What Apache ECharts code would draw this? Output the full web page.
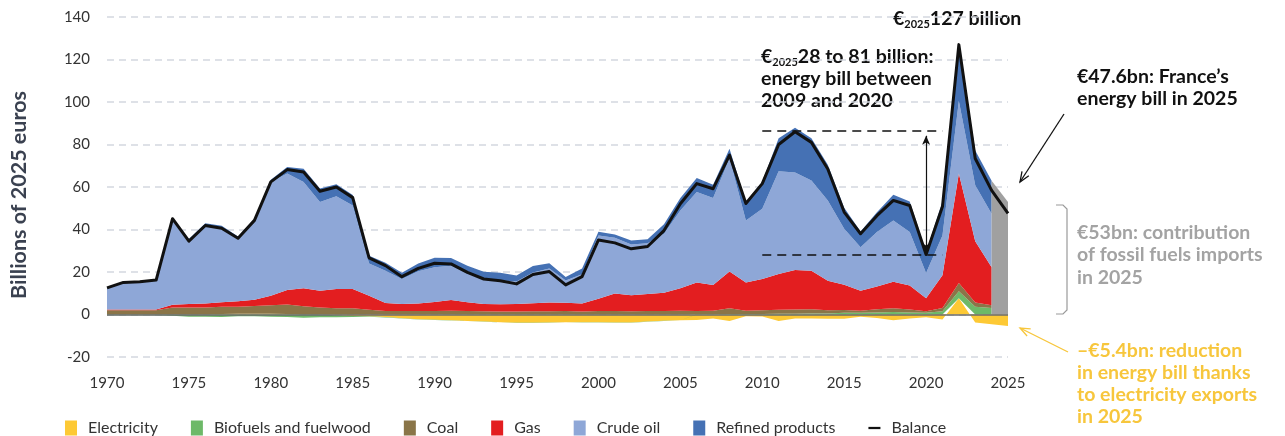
<!doctype html>
<html lang="en">
<head>
    <meta charset="UTF-8">
    <title>France energy bill</title>
    <style>
        html, body {margin: 0; padding: 0; background: #fff;}
    </style>
</head>
<body>
<div id="myChart" style="width: 1285px;height: 436px"></div>
<script src="https://cdn.jsdelivr.net/npm/echarts/dist/echarts.min.js"></script>
<script>
    // years 1970..2025
    var years = [];
    for (var yr = 1970; yr <= 2025; yr++) years.push(String(yr));

    // billions of 2025 euros, 1970..2025 (electricity, balance) / 1970..2024 (others)
    var electricity = [0, 0, 0, 0, 0, 0, 0, 0.2, 0.4, 0.4, 0.3, 0.2, 0, 0, -0.3, -0.7, -0.8, -1.2, -1.8, -2.2,
        -2.5, -2.7, -3.0, -3.3, -3.6, -3.9, -3.9, -3.8, -3.6, -3.7, -3.7, -3.8, -3.8, -3.3, -2.9, -2.7, -2.6, -1.9, -3.0, -0.8,
        -0.9, -3.0, -1.9, -1.9, -2.0, -2.0, -1.1, -1.6, -2.7, -1.9, -1.3, -2.4, 7.7, -3.8, -4.6, -5.4];
    var biofuels = [-0.3, -0.3, -0.3, -0.4, -0.6, -1.0, -1.0, -1.2, -0.8, -0.8, -1.0, -1.2, -1.5, -1.3, -1.0, -0.5, -0.3, -0.2, -0.1, -0.1,
        -0.1, -0.1, -0.1, -0.1, -0.1, -0.1, -0.1, -0.1, -0.1, -0.1, -0.1, -0.1, -0.1, -0.1, -0.1, 0, 0.1, 0.1, 0.2, 0.2,
        0.2, 0.3, 0.4, 0.5, 0.5, 0.8, 0.8, 1.0, 1.2, 1.0, 0.8, 1.5, 3.2, 3.6, 3.1, null];
    var coal = [2.0, 2.0, 2.0, 2.0, 3.3, 3.3, 3.3, 3.4, 3.2, 3.6, 4.1, 4.5, 3.9, 3.3, 3.0, 2.9, 2.2, 1.7, 1.6, 1.6,
        1.7, 1.8, 1.6, 1.5, 1.4, 1.4, 1.5, 1.5, 1.6, 1.4, 1.6, 1.6, 1.5, 1.6, 1.7, 1.8, 1.6, 1.7, 2.8, 1.6,
        1.8, 1.9, 2.0, 2.0, 1.5, 1.3, 1.0, 1.5, 1.8, 1.3, 0.7, 1.6, 3.9, 2.0, 1.3, null];
    var gas = [0.3, 0.3, 0.3, 0.4, 1.3, 1.6, 1.9, 2.2, 2.6, 2.9, 4.4, 6.8, 8.4, 7.9, 9.0, 9.1, 6.6, 3.7, 3.4, 3.6,
        4.2, 5.0, 4.2, 3.4, 3.4, 3.5, 3.8, 4.2, 3.9, 3.8, 5.8, 8.3, 7.6, 8.0, 8.5, 10.5, 13.4, 12.1, 17.2, 13.3,
        14.7, 16.9, 18.6, 18.1, 13.9, 11.9, 9.4, 10.7, 12.4, 11.3, 6.2, 15.4, 51.5, 28.9, 17.8, null];
    var crudeOil = [10.2, 12.7, 12.9, 13.4, 40.3, 29.8, 36.7, 34.7, 29.1, 36.7, 53.5, 54.8, 50.1, 41.7, 43.6, 39.3, 15.2, 15.2, 11.7, 15.1,
        16.3, 16.2, 13.3, 11.8, 11.2, 10.6, 14.5, 16.0, 10.5, 13.8, 29.8, 26.2, 23.9, 23.9, 27.8, 36.7, 42.5, 40.9, 53.2, 29.1,
        33.1, 48.3, 45.8, 42.5, 37.8, 26.4, 20.5, 25.6, 28.8, 25.2, 11.8, 18.7, 34.2, 26.3, 25.2, null];
    var refined = [0.3, 0.4, 0.5, 0.8, 0.8, 0.8, 1.0, 1.3, 1.4, 1.5, 1.1, 3.1, 6.2, 6.4, 5.7, 4.9, 3.7, 3.8, 3.0, 3.7,
        4.5, 3.6, 3.8, 3.4, 3.6, 2.9, 3.0, 2.4, 1.6, 2.6, 1.7, 1.5, 1.8, 1.9, 4.5, 5.8, 6.6, 6.3, 4.6, 8.8,
        12.7, 15.6, 21.1, 19.8, 16.8, 9.8, 7.4, 9.3, 12.2, 14.4, 10.0, 16.0, 26.5, 16.4, 15.6, null];
    var balance = [12.5, 15.1, 15.4, 16.2, 45.1, 34.5, 41.9, 40.6, 35.9, 44.3, 62.4, 68.2, 67.1, 58.0, 60.0, 55.0, 26.6, 23.0, 17.8, 21.7,
        24.1, 23.8, 19.8, 16.7, 15.9, 14.4, 18.8, 20.2, 13.9, 17.8, 35.1, 33.7, 30.9, 32.0, 39.5, 52.1, 61.6, 59.2, 75.0, 52.2,
        61.6, 80.0, 86.0, 81.0, 68.5, 48.2, 38.0, 46.5, 53.7, 51.3, 28.2, 50.8, 127.0, 73.4, 58.4, 47.6];
    // 2025 fossil imports, not split by product (drawn from 2024 to 2025)
    var fossilYears = ['2024', '2025'];
    var fossilTotal = [63.0, 53.0];

    // 2009-2020 range guides (x as fractional year index)
    var rangeTop = 86.4, rangeBottom = 28.1;
    var rangeStart = 39.6, rangeEnd = 51, rangeArrowAt = 50;

    var myChart = echarts.init(document.getElementById('myChart'));
    var font = 'Lato, "Noto Sans", sans-serif';

    function stackSeries(name, color, vals) {
        return {
            name: name,
            type: 'line',
            stack: 'bill',
            data: vals,
            symbol: 'none',
            lineStyle: {width: 0},
            itemStyle: {color: color},
            areaStyle: {color: color, opacity: 1},
            z: 2
        };
    }

    var bold = function (color) {
        return {fontFamily: 'Lato', fontWeight: 'bold', fontSize: 19.5, lineHeight: 22, fill: color};
    };
    var sub = function (color) {
        return {fontFamily: 'Lato', fontWeight: 'bold', fontSize: 11, lineHeight: 8, verticalAlign: 'bottom', fill: color};
    };
    var bigFont = 'bold 19.5px Lato';

    var option = {
        animation: false,
        backgroundColor: '#fff',
        textStyle: {fontFamily: font},
        grid: {left: 104, right: 277, top: 17, bottom: 79},
        legend: {
            left: 65,
            top: 420,
            padding: 0,
            itemWidth: 12,
            itemHeight: 15,
            itemGap: 33,
            textStyle: {fontSize: 16, color: '#333', fontFamily: font, padding: [0, 0, 0, 6]},
            data: [
                {name: 'Electricity', icon: 'rect'},
                {name: 'Biofuels and fuelwood', icon: 'rect'},
                {name: 'Coal', icon: 'rect'},
                {name: 'Gas', icon: 'rect'},
                {name: 'Crude oil', icon: 'rect'},
                {name: 'Refined products', icon: 'rect'},
                {name: 'Balance', icon: 'path://M0,0H16V3H0Z'}
            ]
        },
        xAxis: {
            type: 'category',
            data: years,
            boundaryGap: false,
            axisLine: {show: false, onZero: false},
            axisTick: {show: false},
            splitLine: {show: false},
            axisLabel: {fontSize: 15, color: '#333', margin: 19, interval: 4}
        },
        yAxis: {
            type: 'value',
            min: -20,
            max: 140,
            interval: 20,
            name: 'Billions of 2025 euros',
            nameLocation: 'middle',
            nameGap: 77,
            nameTextStyle: {fontSize: 21.5, fontWeight: 'bold', color: '#3a4150', fontFamily: font, padding: [0, 16, 0, 0]},
            axisLine: {show: false},
            axisTick: {show: false},
            axisLabel: {fontSize: 15, color: '#333', margin: 17},
            splitLine: {lineStyle: {color: '#d3d7df', width: 1.5, type: [7, 5]}}
        },
        series: [
            stackSeries('Electricity', '#fdc935', electricity),
            stackSeries('Biofuels and fuelwood', '#6db968', biofuels),
            stackSeries('Coal', '#8a7548', coal),
            stackSeries('Gas', '#e31e20', gas),
            stackSeries('Crude oil', '#8ea7d7', crudeOil),
            stackSeries('Refined products', '#4571b4', refined),
            {
                name: 'Fossil total 2025',
                type: 'line',
                data: fossilYears.map(function (y, i) { return [y, fossilTotal[i]]; }),
                symbol: 'none',
                lineStyle: {width: 0},
                itemStyle: {color: '#a0a0a0'},
                areaStyle: {color: '#a0a0a0', opacity: 1},
                z: 3
            },
            {
                name: 'Balance',
                type: 'line',
                data: balance,
                symbol: 'none',
                itemStyle: {color: '#111'},
                lineStyle: {color: '#111', width: 3, join: 'round'},
                z: 5,
                markLine: {
                    silent: true,
                    symbol: ['none', 'none'],
                    label: {show: false},
                    emphasis: {disabled: true},
                    data: [
                        {yAxis: 0, lineStyle: {color: '#6b6b6b', width: 1.5, type: 'solid'}},
                        [{coord: [rangeStart, rangeTop]}, {coord: [rangeEnd, rangeTop], lineStyle: {color: '#111', width: 1.5, type: [9, 6]}}],
                        [{coord: [rangeStart, rangeBottom]}, {coord: [rangeEnd, rangeBottom], lineStyle: {color: '#111', width: 1.5, type: [9, 6]}}],
                        [{coord: [rangeArrowAt, 84.1], symbol: 'arrow', symbolSize: [6, 9]},
                         {coord: [rangeArrowAt, 29.3], symbol: 'arrow', symbolSize: [6, 9], lineStyle: {color: '#111', width: 1.2, type: 'solid'}}]
                    ]
                }
            }
        ],
        graphic: [
            {
                type: 'text', x: 893, y: 8,
                style: {
                    text: '{b|€}{s|2025}{b|127 billion}',
                    rich: {b: bold('#111'), s: sub('#111')}
                }
            },
            {
                type: 'text', x: 761, y: 46,
                style: {
                    text: '{b|€}{s|2025}{b|28 to 81 billion:}\n{b|energy bill between}\n{b|2009 and 2020}',
                    rich: {b: bold('#111'), s: sub('#111')}
                }
            },
            {
                type: 'text', x: 1077, y: 65,
                style: {text: '€47.6bn: France’s\nenergy bill in 2025', font: bigFont, lineHeight: 22.5, fill: '#111'}
            },
            {
                type: 'text', x: 1077, y: 221,
                style: {text: '€53bn: contribution\nof fossil fuels imports\nin 2025', font: bigFont, lineHeight: 22.5, fill: '#a3a3a3'}
            },
            {
                type: 'text', x: 1077, y: 340,
                style: {text: '–€5.4bn: reduction\nin energy bill thanks\nto electricity exports\nin 2025', font: bigFont, lineHeight: 22, fill: '#f7c63c'}
            },
            // arrow to 2025 balance
            {type: 'line', shape: {x1: 1064, y1: 114, x2: 1020, y2: 182}, style: {stroke: '#111', lineWidth: 1.3}},
            {type: 'polyline', shape: {points: [[1028.8, 175.8], [1020, 182], [1022, 171.4]]}, style: {stroke: '#111', lineWidth: 1.3, fill: null}},
            // arrow to 2025 electricity
            {type: 'line', shape: {x1: 1068, y1: 352, x2: 1020, y2: 328}, style: {stroke: '#f7c63c', lineWidth: 1.3}},
            {type: 'polyline', shape: {points: [[1030.7, 328.9], [1020, 328], [1027.1, 336]]}, style: {stroke: '#f7c63c', lineWidth: 1.3, fill: null}},
            // bracket for fossil imports
            {
                type: 'polyline',
                shape: {points: [[1056, 205], [1063, 205], [1067, 209], [1067, 310], [1063, 314], [1056, 314]]},
                style: {stroke: '#9a9a9a', lineWidth: 1.2, fill: null}
            }
        ]
    };

    myChart.setOption(option);
</script>
</body>
</html>
